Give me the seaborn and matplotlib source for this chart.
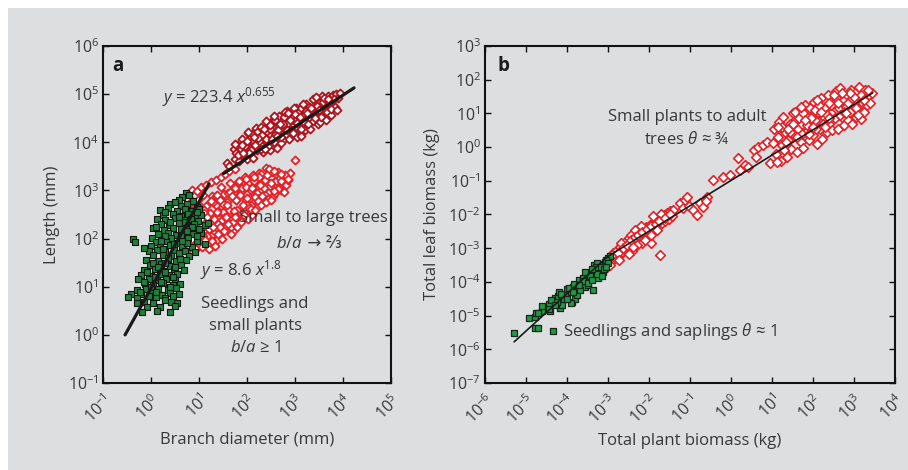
import numpy as np
import matplotlib
matplotlib.use("Agg")
import matplotlib.pyplot as plt
import seaborn as sns
from matplotlib.patches import Rectangle
from matplotlib.ticker import NullLocator

# ---------------- data (log10 values) ----------------
# Panel a: small-to-large trees, upper (dark red) cloud
a_trees_dark_logx = [1.72,1.76,1.80,1.83,1.87,1.90,1.93,1.97,2.00,2.03,2.06,2.09,2.12,2.15,2.18,2.21,2.24,2.27,2.30,2.33,
                     2.36,2.39,2.42,2.45,2.48,2.51,2.54,2.57,2.60,2.63,2.66,2.69,2.72,2.75,2.78,2.81,2.84,2.87,2.90,2.93,
                     2.96,2.99,3.02,3.05,3.08,3.11,3.14,3.17,3.20,3.23,3.26,3.29,3.32,3.35,3.38,3.41,3.44,3.47,3.50,3.53,
                     3.56,3.59,3.62,3.65,3.68,3.71,3.74,3.77,3.80,3.83,3.86,3.90,3.93,
                     1.78,1.95,2.08,2.20,2.32,2.44,2.55,2.62,2.70,2.77,2.85,2.92,3.00,3.07,3.13,3.22,3.30,3.37,3.45,3.52,
                     3.58,3.66,3.75,2.48,2.26,2.58,2.98,1.58,1.62,
                     1.74,1.81,1.89,1.99,2.04,2.11,2.17,2.23,2.29,2.35,2.40,2.47,2.53,2.59,2.65,2.71,2.74,2.80,2.83,2.89,
                     2.95,3.01,3.04,3.10,3.16,3.19,3.25,3.28,3.34,3.40,3.43,3.49,3.55,3.61,3.64,3.70,3.76,3.82,3.88,
                     2.14,2.38,2.68,2.86,3.12,3.42,3.68,2.02,2.56,1.92,2.63]
a_trees_dark_logy = [3.86,3.66,3.95,3.62,3.86,4.07,3.72,3.97,3.66,4.20,3.89,4.10,3.67,4.03,4.30,3.84,4.15,3.97,4.31,3.80,
                     4.11,4.44,4.00,4.32,3.84,4.15,4.46,4.00,4.32,3.88,4.55,4.19,4.44,4.05,4.36,4.18,4.66,4.06,4.57,4.34,
                     4.53,4.20,4.72,4.10,4.47,4.70,4.35,4.59,4.25,4.80,4.48,4.73,4.27,4.66,4.44,4.86,4.60,4.37,4.81,4.55,
                     4.97,4.48,4.80,4.66,4.96,4.58,4.89,4.78,4.99,4.74,5.00,4.92,5.03,
                     3.77,3.93,3.83,4.21,4.15,3.93,4.27,4.43,3.99,4.53,4.40,4.26,4.45,4.61,4.27,4.64,4.53,4.90,4.76,4.42,
                     4.83,4.62,4.57,4.28,4.02,4.16,4.72,3.57,3.50,
                     3.97,3.73,3.95,4.02,3.78,4.18,3.94,4.08,3.86,4.27,4.07,4.35,4.06,4.46,4.26,4.10,4.39,4.62,4.26,4.47,
                     4.20,4.58,4.40,4.53,4.79,4.42,4.61,4.37,4.72,4.55,4.95,4.68,4.53,4.92,4.46,4.81,4.70,4.90,4.68,
                     4.10,3.86,4.38,4.60,4.14,4.50,4.90,4.22,4.55,3.78,4.13]
# Panel a: small-to-large trees, lower (bright red) cloud
a_trees_light_logx = [0.72,0.75,0.78,0.82,0.85,0.88,0.92,0.95,0.98,1.02,1.05,1.08,1.12,1.15,1.18,1.22,1.25,1.28,
                      1.32,1.35,1.38,1.42,1.45,1.48,1.52,1.55,1.58,1.62,1.65,1.68,1.72,1.75,1.78,1.82,1.85,1.88,
                      1.92,1.95,1.98,2.02,2.05,2.08,2.12,2.15,2.18,2.22,2.25,2.28,2.32,2.35,
                      2.40,2.45,2.50,2.55,2.60,2.65,2.70,2.75,2.82,2.90,3.00,2.79,2.52,
                      0.80,0.90,1.00,1.10,1.20,1.30,1.40,1.50,1.60,1.70,1.80,1.90,2.00,2.10,2.20,2.30,2.38,2.48,2.58,2.68,
                      0.95,1.15,1.35,1.55,1.75,1.95,2.15,2.35,1.05,0.70,0.86,1.26,1.46,1.66,1.86,2.06,2.26,2.46,2.66,2.86,
                      0.76,0.83,0.90,0.97,1.04,1.11,1.17,1.24,1.31,1.37,1.44,1.51,1.57,1.64,1.71,1.77,1.84,1.91,1.97,2.04,
                      2.11,2.17,2.24,2.31,2.37,2.44,2.51,2.57,2.64,2.71,2.77,2.86,0.88,1.02,1.16,1.30,1.44,1.58,1.72,1.86,
                      2.00,2.14,2.28,2.42,2.56,2.70,1.08,1.38,1.68,1.98,
                      0.80,0.86,0.93,1.00,1.06,1.13,1.20,1.27,1.33,1.40,1.47,1.53,1.60,1.66,1.74,1.80,1.88,1.94,2.02,2.09,
                      2.16,2.22,2.30,2.40,2.50,0.85,0.95,1.05,1.15,1.25,1.35,1.45,1.55,1.62,1.75]
a_trees_light_logy = [2.59,1.85,2.36,2.12,2.78,1.99,2.52,2.26,2.72,1.89,2.40,2.91,2.12,2.68,1.90,2.54,2.33,2.89,
                      2.12,2.69,1.97,2.56,3.07,2.39,2.92,2.24,2.76,2.59,3.16,2.43,2.96,2.33,2.80,3.17,2.55,2.97,
                      2.43,3.27,2.81,3.16,2.58,3.00,3.33,2.80,3.17,2.67,3.37,2.99,3.20,2.80,
                      3.46,2.97,3.28,2.88,3.19,3.39,3.00,3.27,3.11,3.37,3.64,3.32,3.39,
                      2.05,2.65,2.15,2.60,2.20,2.75,2.30,2.55,2.95,2.15,2.60,3.05,2.70,2.50,2.95,3.35,2.90,3.10,2.95,3.25,
                      2.45,2.05,2.88,2.45,3.05,2.60,3.20,3.05,2.00,2.20,2.50,2.05,2.80,2.25,2.35,2.85,2.85,3.45,3.05,3.22,
                      2.00,2.48,1.92,2.81,2.25,2.53,2.05,2.78,2.41,2.90,2.25,2.71,2.45,2.97,2.34,2.81,3.20,2.69,3.08,2.64,
                      3.05,2.86,3.28,2.88,3.21,2.82,3.15,3.41,3.04,3.20,2.97,3.24,2.59,2.52,2.44,2.23,2.80,2.69,2.58,2.91,
                      2.85,3.27,3.11,3.32,2.98,3.35,2.06,2.56,2.88,3.24,
                      1.80,2.00,1.78,2.05,1.82,1.98,1.78,1.95,1.85,2.10,2.00,2.15,2.30,2.10,2.45,2.25,2.35,2.50,2.40,2.62,
                      2.60,2.78,2.70,2.75,2.80,3.00,2.98,3.08,3.12,3.18,3.22,3.28,3.35,3.40,3.45]
# Panel a: seedlings and small plants (green)
a_seed_logx = [0.72, 0.65,0.80, 0.58,0.88, 0.40,0.62,0.75,0.95, 0.18,0.35,0.55,0.70,0.85,1.00,
               0.25,0.45,0.62,0.78,0.92,1.05, 0.12,0.30,0.50,0.68,0.84,0.98, 0.20,0.38,0.58,0.74,0.90,1.12,1.19,
               0.05,0.28,0.45,0.62,0.80,0.95, 0.15,0.35,0.52,0.70,0.88,1.05, -0.38,0.02,0.22,0.42,0.60,0.78,
               -0.33,0.10,0.32,0.55,0.95,1.12, 0.00,0.18,0.40,0.65,0.85, -0.05,0.12,0.30,0.48,0.70,0.92,
               0.05,0.25,0.42,0.58,0.80, -0.10,0.15,0.35,0.52,0.72, -0.02,0.20,0.40,0.62,
               -0.15,0.08,0.28,0.48,0.68, -0.20,0.00,0.18,0.38,0.55, -0.27,-0.05,0.12,0.32,0.50,
               -0.12,0.05,0.25,0.45,0.60, -0.30,-0.10,0.15,0.35,0.52, -0.42,-0.20,0.02,0.22,0.40,0.58,
               -0.48,-0.30,0.10,0.30, -0.15,0.05,0.42,0.55, -0.08,0.18,0.50, -0.19,0.12,0.40,
               0.50,0.30,0.95,0.58,0.40,0.85,0.10,0.62,0.30,0.95,0.48,0.75,-0.15,0.25,0.58,0.35,0.60,0.05,0.30,0.50,
               0.15,-0.08,0.30,0.45,0.08,-0.15,0.20,0.40,0.00,-0.22,0.10,0.30,-0.05,-0.30,0.45,0.70,1.00,0.75,0.20,0.65]
a_seed_logy = [2.95, 2.87,2.90, 2.80,2.78, 2.72,2.68,2.71,2.66, 2.60,2.63,2.58,2.61,2.57,2.62,
               2.49,2.52,2.47,2.51,2.48,2.50, 2.41,2.38,2.42,2.39,2.40,2.37, 2.30,2.28,2.32,2.27,2.31,2.29,2.33,
               2.21,2.18,2.22,2.19,2.20,2.17, 2.10,2.12,2.08,2.11,2.09,2.12, 2.00,2.01,1.98,2.02,1.99,2.01,
               1.93,1.92,1.95,1.91,1.94,1.88, 1.85,1.83,1.86,1.84,1.82, 1.74,1.76,1.73,1.77,1.75,1.72,
               1.65,1.66,1.63,1.67,1.64, 1.56,1.54,1.57,1.53,1.55, 1.45,1.47,1.43,1.46,
               1.34,1.36,1.33,1.37,1.35, 1.25,1.23,1.27,1.24,1.26, 1.15,1.17,1.13,1.16,1.14,
               1.05,1.03,1.07,1.04,1.06, 0.94,0.96,0.95,0.93,0.97, 0.85,0.84,0.87,0.83,0.86,0.84,
               0.78,0.76,0.79,0.77, 0.68,0.66,0.69,0.67, 0.58,0.57,0.59, 0.48,0.49,0.47,
               2.75,2.55,2.55,2.45,2.35,2.25,2.25,2.05,2.05,2.05,1.88,1.90,1.80,1.78,1.70,1.60,1.58,1.50,1.50,1.40,
               1.40,1.30,1.30,1.20,1.20,1.10,1.10,1.00,1.00,0.90,0.90,0.72,0.80,0.66,0.80,2.35,2.20,2.15,1.95,1.95]
# Panel a fitted lines (end points)
a_fit_trees_logx = [1.51, 4.23]
a_fit_trees_logy = [3.35, 5.13]
a_fit_seed_logx = [-0.54, 1.21]
a_fit_seed_logy = [0.00, 3.14]

# Panel b: small plants to adult trees (red)
b_trees_logx = [-3.05,-2.98,-2.92,-2.87,-2.82,-2.78,-2.74,-2.70,-2.66,-2.62,-2.58,-2.55,-2.51,-2.48,-2.45,-2.41,-2.38,-2.35,
                -2.31,-2.28,-2.24,-2.21,-2.18,-2.15,-2.12,-2.08,-2.05,-2.02,-1.98,-1.94,-1.92,-1.89,-1.86,-1.82,-1.78,-1.73,
                -1.72,-1.68,-1.64,-1.60,-1.56,-1.52,-1.48,-1.44,-1.41,
                -2.60,-2.45,-2.30,-2.20,-2.00,-1.95,-1.90,-1.70,-2.50,-2.68,-2.35,-3.02,-2.95,
                -1.24,-1.18,-1.12,-1.08,-1.02,-0.92,-0.84,-0.76,-0.68,-0.59,-0.62,-0.43,-0.19,-0.02,
                0.18,0.22,0.34,0.42,0.55,0.67,0.79,0.87,0.95,0.60,
                1.02,1.06,1.10,1.14,1.18,1.22,1.25,1.28,1.32,1.36,1.40,1.43,1.47,1.50,1.53,1.56,
                1.60,1.63,1.66,1.70,1.73,1.76,1.80,1.83,1.86,1.90,1.93,1.96,2.00,2.03,2.06,2.10,
                2.13,2.16,2.20,2.23,2.26,2.30,2.33,2.36,2.40,2.43,2.46,2.50,2.53,2.56,2.60,2.63,
                2.66,2.70,2.73,2.76,2.80,2.83,2.86,2.90,2.93,2.96,3.00,3.03,3.06,3.10,3.13,3.16,
                3.20,3.24,3.28,3.32,3.36,3.40,3.45,
                1.45,1.65,1.85,2.05,2.25,2.45,2.65,2.85,3.05,1.55,1.75,1.95,2.15,2.35,2.55,2.75,
                1.25,1.35,2.95,3.18,2.38,1.12,1.72,2.08,
                -2.90,-2.76,-2.64,-2.53,-2.43,-2.33,-2.26,-2.16,-2.06,-1.96,-1.84,-1.75,-1.62,-1.50,-2.72,-2.40,-2.10,-1.80,
                1.40,1.60,1.80,2.00,2.20,2.40,2.60,2.80,3.00,3.25,1.30,1.70,2.10,2.50,2.90,3.35,1.50,1.90,2.30,2.70,3.10,1.15]
b_trees_logy = [-3.45,-3.28,-3.38,-3.15,-3.30,-3.05,-3.22,-2.95,-3.12,-2.88,-3.05,-2.80,-2.98,-2.70,-2.88,-3.09,-2.62,-2.80,
                -2.55,-2.72,-2.48,-2.65,-2.85,-2.42,-2.58,-2.36,-2.52,-2.70,-2.30,-2.85,-2.45,-2.22,-2.40,-2.15,-2.32,-3.20,
                -2.10,-2.25,-2.02,-2.18,-1.96,-2.12,-1.90,-2.05,-1.86,
                -2.95,-2.60,-2.90,-2.35,-2.45,-2.62,-2.05,-1.98,-3.18,-2.85,-2.45,-3.55,-3.50,
                -1.67,-1.80,-1.58,-1.47,-1.75,-1.87,-2.01,-1.67,-1.77,-1.47,-1.60,-0.98,-0.88,-0.83,
                -0.33,-0.68,-0.53,-0.58,-0.09,0.01,0.06,0.16,-0.48,-0.30,
                0.12,0.55,-0.20,0.30,0.75,-0.40,0.05,0.90,0.45,-0.30,0.20,0.68,-0.05,1.00,0.35,0.80,
                -0.15,0.55,1.10,0.15,0.70,-0.02,1.25,0.45,0.90,0.20,1.15,0.60,0.35,1.35,0.80,0.10,
                1.05,0.55,1.45,0.25,0.90,1.20,0.45,1.55,0.70,1.00,0.50,1.30,0.85,1.65,0.55,1.15,
                1.74,0.90,1.40,0.65,1.20,1.55,0.80,1.05,1.70,0.70,1.35,1.60,0.90,1.15,1.78,0.82,
                1.45,1.05,1.70,1.25,1.55,1.30,1.62,
                0.45,0.85,0.65,1.10,0.70,1.25,0.95,1.30,1.15,1.05,1.00,0.85,1.25,0.95,1.45,1.05,
                0.60,0.15,1.45,1.55,1.30,-0.45,0.40,0.55,
                -3.20,-3.15,-2.98,-2.90,-2.75,-2.68,-2.60,-2.52,-2.42,-2.35,-2.28,-2.20,-2.10,-2.00,-3.35,-2.95,-2.75,-2.45,
                0.55,0.30,0.80,0.60,1.05,0.85,1.30,1.00,1.50,1.40,-0.10,1.20,1.40,1.55,1.60,1.70,0.70,0.40,0.60,1.60,0.95,0.60]
# Panel b: seedlings and saplings (green)
b_seed_logx = [-5.29,-4.92,-4.78,-4.70,-4.35,-4.78,-4.76,-4.55,-4.50,-4.41,
               -4.33,-4.29,-4.21,-4.13,-4.17,-4.13,-4.01,-3.93,-3.85,-3.76,
               -3.89,-3.80,-3.76,-3.64,-3.52,-3.44,-3.40,-3.56,-3.48,-3.36,
               -3.32,-3.24,-3.15,-3.07,-2.99,-2.95,-3.20,-3.12,-3.33,-3.28,
               -3.91,-4.62,-4.45,-4.25,-4.05,-3.95,-3.70,-3.60,-3.45,-3.30,
               -3.18,-3.05,-3.00,-4.20,-4.40,-4.70,-3.72,-3.82,-3.25,-3.10,-4.08,-3.55,
               -4.60,-4.45,-4.30,-4.15,-4.00,-3.85,-3.68,-3.62,-3.50,-3.40,-3.28,-3.15,-3.05,-3.40,-3.70]
b_seed_logy = [-5.51,-5.08,-5.38,-5.38,-5.46,-5.03,-4.91,-4.74,-4.79,-4.86,
               -4.59,-4.49,-4.42,-4.54,-4.78,-4.69,-4.22,-4.29,-4.14,-4.09,
               -4.59,-4.52,-4.39,-4.04,-3.94,-3.74,-3.84,-4.14,-4.09,-4.24,
               -3.70,-3.60,-3.50,-3.40,-3.30,-3.23,-3.74,-3.70,-3.50,-3.45,
               -4.63,-4.85,-4.65,-4.60,-4.40,-4.18,-3.95,-3.88,-3.82,-3.55,
               -3.55,-3.35,-3.45,-4.30,-4.55,-4.92,-4.18,-4.05,-3.88,-3.62,-4.50,-3.72,
               -4.72,-4.80,-4.70,-4.35,-4.50,-4.30,-4.25,-3.98,-4.02,-3.95,-3.78,-3.82,-3.55,-3.62,-4.10]
# Panel b fitted line (break points)
b_fit_logx = [-5.29, -3.02, 3.46]
b_fit_logy = [-5.78, -3.26, 1.61]

a_xticks_exp = [-1, 0, 1, 2, 3, 4, 5]
a_yticks_exp = [-1, 0, 1, 2, 3, 4, 5, 6]
b_xticks_exp = [-6, -5, -4, -3, -2, -1, 0, 1, 2, 3, 4]
b_yticks_exp = [-7, -6, -5, -4, -3, -2, -1, 0, 1, 2, 3]

# ---------------- style ----------------
sns.set_style("ticks")
plt.rcParams["font.family"] = ["Open Sans", "DejaVu Sans"]
plt.rcParams["mathtext.fontset"] = "custom"
plt.rcParams["mathtext.rm"] = "Open Sans"
plt.rcParams["mathtext.it"] = "Open Sans:italic"
plt.rcParams["mathtext.bf"] = "Open Sans:bold"

TXT = "#383838"
BG = "#dddee0"
SPINE = "#111111"

fig = plt.figure(figsize=(9.08, 4.70), dpi=100, facecolor="white")
fig.add_artist(Rectangle((8 / 908, 0), 1, 462 / 470, transform=fig.transFigure,
                         facecolor=BG, edgecolor="none", zorder=-10))

axA = fig.add_axes([103 / 908, 87 / 470, 288 / 908, 337 / 470])
axB = fig.add_axes([485 / 908, 87 / 470, 410 / 908, 337 / 470])


def p10(v):
    return np.power(10.0, np.asarray(v, dtype=float))


def setup(ax, xexp, yexp):
    ax.set_xscale("log")
    ax.set_yscale("log")
    ax.set_xlim(10.0 ** xexp[0], 10.0 ** xexp[-1])
    ax.set_ylim(10.0 ** yexp[0], 10.0 ** yexp[-1])


setup(axA, a_xticks_exp, a_yticks_exp)
setup(axB, b_xticks_exp, b_yticks_exp)


def scatter(ax, lx, ly, marker, s, face, edge, lw, z):
    sns.scatterplot(x=p10(lx), y=p10(ly), ax=ax, marker=marker, s=s, color=face,
                    edgecolor=edge, linewidth=lw, legend=False, zorder=z)


# panel a
scatter(axA, a_trees_light_logx, a_trees_light_logy, "D", 17, "white", "#e42128", 1.3, 2)
scatter(axA, a_trees_dark_logx, a_trees_dark_logy, "D", 17, "white", "#b0121c", 1.3, 3)
scatter(axA, a_seed_logx, a_seed_logy, "s", 13, "#1f7f3d", "#101810", 0.8, 4)
sns.lineplot(x=p10(a_fit_trees_logx), y=p10(a_fit_trees_logy), ax=axA, color="#1a1a1a",
             linewidth=2.3, estimator=None, sort=False, legend=False, zorder=5)
sns.lineplot(x=p10(a_fit_seed_logx), y=p10(a_fit_seed_logy), ax=axA, color="#1a1a1a",
             linewidth=2.3, estimator=None, sort=False, legend=False, zorder=5)

# panel b
scatter(axB, b_trees_logx, b_trees_logy, "D", 24, "white", "#e42128", 1.2, 2)
scatter(axB, b_seed_logx, b_seed_logy, "s", 22, "#1f9a46", "#1a261a", 0.9, 4)
sns.lineplot(x=p10(b_fit_logx), y=p10(b_fit_logy), ax=axB, color="#1a1a1a",
             linewidth=1.2, estimator=None, sort=False, legend=False, zorder=5)


def style(ax, xexp, yexp, xlabel, ylabel):
    ax.set_facecolor("none")
    ax.set_xticks(p10(xexp))
    ax.set_xticklabels([r"$10^{%d}$" % e for e in xexp], rotation=45, ha="right",
                       va="top", rotation_mode="anchor")
    ax.set_yticks(p10(yexp))
    ax.set_yticklabels([r"$10^{%d}$" % e for e in yexp])
    ax.xaxis.set_minor_locator(NullLocator())
    ax.yaxis.set_minor_locator(NullLocator())
    for sp in ax.spines.values():
        sp.set_visible(True)
        sp.set_linewidth(1.5)
        sp.set_color(SPINE)
    ax.tick_params(which="major", direction="in", top=True, right=True, length=4.5,
                   width=1.0, color=SPINE, labelsize=11.5, labelcolor=TXT)
    ax.tick_params(axis="y", pad=3)
    ax.tick_params(axis="x", pad=6)
    ax.set_xlabel(xlabel, fontsize=12, color=TXT, labelpad=4)
    ax.set_ylabel(ylabel, fontsize=12, color=TXT, labelpad=6)


style(axA, a_xticks_exp, a_yticks_exp, "Branch diameter (mm)", "Length (mm)")
style(axB, b_xticks_exp, b_yticks_exp, "Total plant biomass (kg)", "Total leaf biomass (kg)")

# annotations panel a
kw = dict(transform=axA.transAxes, fontsize=12, color=TXT, va="center")
axA.text(0.031, 0.94, "a", transform=axA.transAxes, fontsize=13.5, fontweight="bold",
         color="#1a1a1a", va="center", ha="left")
axA.text(0.205, 0.849, r"$y$ = 223.4 $x^{0.655}$", ha="left", **kw)
axA.text(0.729, 0.49, "Small to large trees", ha="center", **kw)
t_ba = axA.text(0.60, 0.412, r"$b/a$", ha="left", **kw)
axA.annotate(" → ⅔", xy=(1.0, 0.5), xycoords=t_ba, ha="left", va="center",
             fontsize=12, color=TXT, family=["Open Sans", "DejaVu Sans"])
axA.text(0.337, 0.335, r"$y$ = 8.6 $x^{1.8}$", ha="left", **kw)
axA.text(0.528, 0.234, "Seedlings and", ha="center", **kw)
axA.text(0.528, 0.169, "small plants", ha="center", **kw)
axA.text(0.528, 0.104, r"$b/a$ ≥ 1", ha="center", **kw)

# annotations panel b
kwb = dict(transform=axB.transAxes, fontsize=12, color=TXT, va="center")
axB.text(0.03, 0.94, "b", transform=axB.transAxes, fontsize=13.5, fontweight="bold",
         color="#1a1a1a", va="center", ha="left")
axB.text(0.493, 0.79, "Small plants to adult", ha="center", **kwb)
axB.text(0.493, 0.724, r"trees $\theta$ ≈ ¾", ha="center", **kwb)
axB.text(0.19, 0.154, r"Seedlings and saplings $\theta$ ≈ 1", ha="left", **kwb)

fig.savefig("out.png", dpi=100, facecolor=fig.get_facecolor())
